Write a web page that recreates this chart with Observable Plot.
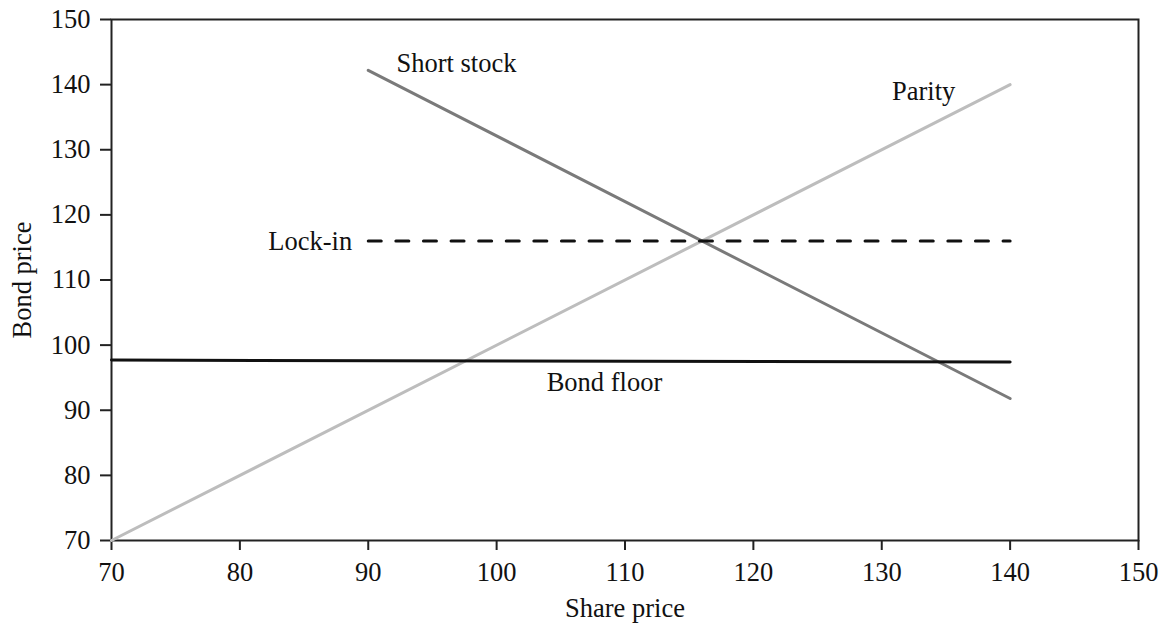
<!DOCTYPE html>
<html>
<head>
<meta charset="utf-8">
<script src="https://cdn.jsdelivr.net/npm/d3@7"></script>
<script src="https://cdn.jsdelivr.net/npm/@observablehq/plot@0.6"></script>
<style>
  html, body { margin: 0; padding: 0; background: #fff; }
  #chart svg { display: block; }
</style>
</head>
<body>
<div id="chart"></div>
<script>
// Data
const parityX = [70, 140];
const parityY = [70, 140];
const shortStockX = [90, 140];
const shortStockY = [142.2, 91.8];
const lockInX = [90, 140];
const lockInY = [116, 116];
const bondFloorX = [70, 140];
const bondFloorY = [97.7, 97.4];
const xTicks = [70, 80, 90, 100, 110, 120, 130, 140, 150];
const yTicks = [70, 80, 90, 100, 110, 120, 130, 140, 150];
const xLabel = "Share price";
const yLabel = "Bond price";
const labelTexts = ["Short stock", "Parity", "Lock-in", "Bond floor"];
const labelX = [92.2, 130.8, 88.75, 103.9];
const labelY = [143.2, 138.9, 115.9, 94.3];
const labelAnchors = ["start", "start", "end", "start"];

const toRows = (xs, ys) => xs.map((x, i) => ({x, y: ys[i]}));
const labels = labelTexts.map((t, i) => ({text: t, x: labelX[i], y: labelY[i], anchor: labelAnchors[i]}));

const font = "'Liberation Serif', 'Times New Roman', serif";

const chart = Plot.plot({
  width: 1164,
  height: 626,
  marginLeft: 111,
  marginRight: 26,
  marginTop: 19,
  marginBottom: 86,
  style: {fontFamily: font, fontSize: "26.5px", color: "#111", background: "#fff"},
  x: {domain: [70, 150]},
  y: {domain: [70, 150]},
  marks: [
    Plot.axisX({ticks: xTicks, tickSize: 10, tickPadding: 12, strokeWidth: 2, stroke: "#222", fill: "#111", label: null}),
    Plot.axisY({ticks: yTicks, tickSize: 11, tickPadding: 10, strokeWidth: 2, stroke: "#222", fill: "#111", label: null}),
    Plot.frame({stroke: "#222", strokeWidth: 2}),
    Plot.line(toRows(parityX, parityY), {x: "x", y: "y", stroke: "#bdbdbd", strokeWidth: 3}),
    Plot.line(toRows(shortStockX, shortStockY), {x: "x", y: "y", stroke: "#7a7a7a", strokeWidth: 3}),
    Plot.line(toRows(lockInX, lockInY), {x: "x", y: "y", stroke: "#111", strokeWidth: 3, strokeDasharray: "13,14.6"}),
    Plot.line(toRows(bondFloorX, bondFloorY), {x: "x", y: "y", stroke: "#111", strokeWidth: 3}),
    Plot.text(labels.filter(d => d.anchor === "start"), {x: "x", y: "y", text: "text", textAnchor: "start", fill: "#111", fontSize: 26.5}),
    Plot.text(labels.filter(d => d.anchor === "end"), {x: "x", y: "y", text: "text", textAnchor: "end", fill: "#111", fontSize: 26.5}),
    Plot.text([xLabel], {frameAnchor: "bottom", lineAnchor: "middle", textAnchor: "middle", dy: 68, fill: "#111", fontSize: 26.5}),
    Plot.text([yLabel], {frameAnchor: "left", lineAnchor: "middle", textAnchor: "middle", dx: -89, rotate: -90, fill: "#111", fontSize: 26.5})
  ]
});
document.getElementById("chart").appendChild(chart);
</script>
</body>
</html>
